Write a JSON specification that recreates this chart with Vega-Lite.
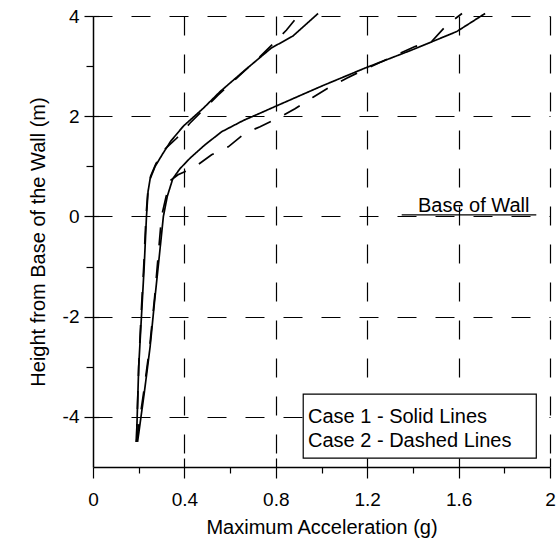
{
  "$schema": "https://vega.github.io/schema/vega-lite/v6.json",
  "width": 457,
  "height": 451,
  "autosize": {"type": "none"},
  "padding": {"left": 93, "top": 16, "right": 9, "bottom": 71},
  "background": "white",
  "config": {
    "font": "Liberation Sans",
    "view": {"stroke": null},
    "axis": {"domainColor": "black", "tickColor": "black", "labelColor": "black", "titleColor": "black", "gridColor": "black"}
  },
  "datasets": {
    "curves": [
      {"case": "Case 1", "curve": "c1-left", "x": 0.19, "y": -4.5},
      {"case": "Case 1", "curve": "c1-left", "x": 0.2, "y": -3},
      {"case": "Case 1", "curve": "c1-left", "x": 0.212, "y": -2},
      {"case": "Case 1", "curve": "c1-left", "x": 0.224, "y": -1},
      {"case": "Case 1", "curve": "c1-left", "x": 0.234, "y": 0},
      {"case": "Case 1", "curve": "c1-left", "x": 0.241, "y": 0.5},
      {"case": "Case 1", "curve": "c1-left", "x": 0.25, "y": 0.75},
      {"case": "Case 1", "curve": "c1-left", "x": 0.272, "y": 1.0},
      {"case": "Case 1", "curve": "c1-left", "x": 0.305, "y": 1.25},
      {"case": "Case 1", "curve": "c1-left", "x": 0.34, "y": 1.5},
      {"case": "Case 1", "curve": "c1-left", "x": 0.395, "y": 1.8},
      {"case": "Case 1", "curve": "c1-left", "x": 0.483, "y": 2.16},
      {"case": "Case 1", "curve": "c1-left", "x": 0.556, "y": 2.49},
      {"case": "Case 1", "curve": "c1-left", "x": 0.665, "y": 2.92},
      {"case": "Case 1", "curve": "c1-left", "x": 0.78, "y": 3.36},
      {"case": "Case 1", "curve": "c1-left", "x": 0.875, "y": 3.6},
      {"case": "Case 1", "curve": "c1-left", "x": 0.985, "y": 4.05},

      {"case": "Case 1", "curve": "c1-right", "x": 0.195, "y": -4.5},
      {"case": "Case 1", "curve": "c1-right", "x": 0.225, "y": -3.5},
      {"case": "Case 1", "curve": "c1-right", "x": 0.25, "y": -2.6},
      {"case": "Case 1", "curve": "c1-right", "x": 0.27, "y": -1.67},
      {"case": "Case 1", "curve": "c1-right", "x": 0.29, "y": -0.8},
      {"case": "Case 1", "curve": "c1-right", "x": 0.308, "y": 0},
      {"case": "Case 1", "curve": "c1-right", "x": 0.325, "y": 0.4},
      {"case": "Case 1", "curve": "c1-right", "x": 0.349, "y": 0.75},
      {"case": "Case 1", "curve": "c1-right", "x": 0.38, "y": 0.95},
      {"case": "Case 1", "curve": "c1-right", "x": 0.424, "y": 1.16},
      {"case": "Case 1", "curve": "c1-right", "x": 0.49, "y": 1.43},
      {"case": "Case 1", "curve": "c1-right", "x": 0.563, "y": 1.69},
      {"case": "Case 1", "curve": "c1-right", "x": 0.66, "y": 1.92},
      {"case": "Case 1", "curve": "c1-right", "x": 0.731, "y": 2.06},
      {"case": "Case 1", "curve": "c1-right", "x": 0.8, "y": 2.2},
      {"case": "Case 1", "curve": "c1-right", "x": 1.0, "y": 2.6},
      {"case": "Case 1", "curve": "c1-right", "x": 1.19, "y": 2.96},
      {"case": "Case 1", "curve": "c1-right", "x": 1.4, "y": 3.33},
      {"case": "Case 1", "curve": "c1-right", "x": 1.592, "y": 3.69},
      {"case": "Case 1", "curve": "c1-right", "x": 1.716, "y": 4.05},

      {"case": "Case 2", "curve": "c2-left", "x": 0.19, "y": -4.5},
      {"case": "Case 2", "curve": "c2-left", "x": 0.2, "y": -3},
      {"case": "Case 2", "curve": "c2-left", "x": 0.21, "y": -2},
      {"case": "Case 2", "curve": "c2-left", "x": 0.222, "y": -1},
      {"case": "Case 2", "curve": "c2-left", "x": 0.232, "y": 0},
      {"case": "Case 2", "curve": "c2-left", "x": 0.24, "y": 0.5},
      {"case": "Case 2", "curve": "c2-left", "x": 0.252, "y": 0.8},
      {"case": "Case 2", "curve": "c2-left", "x": 0.275, "y": 1.05},
      {"case": "Case 2", "curve": "c2-left", "x": 0.305, "y": 1.3},
      {"case": "Case 2", "curve": "c2-left", "x": 0.366, "y": 1.56},
      {"case": "Case 2", "curve": "c2-left", "x": 0.424, "y": 1.86},
      {"case": "Case 2", "curve": "c2-left", "x": 0.481, "y": 2.12},
      {"case": "Case 2", "curve": "c2-left", "x": 0.547, "y": 2.42},
      {"case": "Case 2", "curve": "c2-left", "x": 0.643, "y": 2.82},
      {"case": "Case 2", "curve": "c2-left", "x": 0.731, "y": 3.19},
      {"case": "Case 2", "curve": "c2-left", "x": 0.782, "y": 3.42},
      {"case": "Case 2", "curve": "c2-left", "x": 0.847, "y": 3.72},
      {"case": "Case 2", "curve": "c2-left", "x": 0.906, "y": 4.05},

      {"case": "Case 2", "curve": "c2-right", "x": 0.19, "y": -4.5},
      {"case": "Case 2", "curve": "c2-right", "x": 0.222, "y": -3.5},
      {"case": "Case 2", "curve": "c2-right", "x": 0.248, "y": -2.6},
      {"case": "Case 2", "curve": "c2-right", "x": 0.27, "y": -1.6},
      {"case": "Case 2", "curve": "c2-right", "x": 0.3, "y": 0},
      {"case": "Case 2", "curve": "c2-right", "x": 0.32, "y": 0.4},
      {"case": "Case 2", "curve": "c2-right", "x": 0.34, "y": 0.72},
      {"case": "Case 2", "curve": "c2-right", "x": 0.372, "y": 0.83},
      {"case": "Case 2", "curve": "c2-right", "x": 0.446, "y": 0.99},
      {"case": "Case 2", "curve": "c2-right", "x": 0.519, "y": 1.23},
      {"case": "Case 2", "curve": "c2-right", "x": 0.592, "y": 1.39},
      {"case": "Case 2", "curve": "c2-right", "x": 0.665, "y": 1.66},
      {"case": "Case 2", "curve": "c2-right", "x": 0.731, "y": 1.79},
      {"case": "Case 2", "curve": "c2-right", "x": 0.818, "y": 1.98},
      {"case": "Case 2", "curve": "c2-right", "x": 0.884, "y": 2.15},
      {"case": "Case 2", "curve": "c2-right", "x": 0.963, "y": 2.38},
      {"case": "Case 2", "curve": "c2-right", "x": 1.028, "y": 2.56},
      {"case": "Case 2", "curve": "c2-right", "x": 1.11, "y": 2.76},
      {"case": "Case 2", "curve": "c2-right", "x": 1.183, "y": 2.92},
      {"case": "Case 2", "curve": "c2-right", "x": 1.307, "y": 3.18},
      {"case": "Case 2", "curve": "c2-right", "x": 1.409, "y": 3.39},
      {"case": "Case 2", "curve": "c2-right", "x": 1.482, "y": 3.49},
      {"case": "Case 2", "curve": "c2-right", "x": 1.548, "y": 3.82},
      {"case": "Case 2", "curve": "c2-right", "x": 1.615, "y": 4.05}
    ],
    "box": [{"x": 0.92, "x2": 1.94, "y": -3.545, "y2": -4.822}],
    "notes": [
      {"x": 1.422, "y": 0.08, "label": "Base of Wall"},
      {"x": 0.941, "y": -4.118, "label": "Case 1 - Solid Lines"},
      {"x": 0.941, "y": -4.597, "label": "Case 2 - Dashed Lines"}
    ],
    "baseline": [{"x": 1.351, "x2": 1.94, "y": 0.03}]
  },
  "resolve": {"axis": {"x": "independent", "y": "independent"}},
  "layer": [
    {
      "data": {"name": "curves"},
      "mark": {"type": "line", "color": "black", "strokeWidth": 1.7},
      "encoding": {
        "x": {
          "field": "x", "type": "quantitative",
          "scale": {"domain": [0, 2], "nice": false, "zero": false},
          "axis": {
            "orient": "bottom",
            "values": [0, 0.2, 0.4, 0.6, 0.8, 1, 1.2, 1.4, 1.6, 1.8, 2],
            "labelExpr": "indexof([0, 0.4, 0.8, 1.2, 1.6, 2], datum.value) >= 0 ? '' + datum.value : ''",
            "labelFontSize": 19, "labelPadding": 12, "labelFlush": false, "labelOverlap": false,
            "tickSize": {"condition": {"test": "indexof([0, 0.4, 0.8, 1.2, 1.6, 2], datum.value) >= 0", "value": 11}, "value": 6},
            "tickWidth": 1.2, "domainWidth": 1.5,
            "grid": true, "gridDash": [19, 19], "gridWidth": 1.2,
            "gridOpacity": {"condition": {"test": "indexof([0.4, 0.8, 1.2, 1.6, 2], datum.value) >= 0", "value": 1}, "value": 0},
            "title": "Maximum Acceleration (g)",
            "titleFontSize": 20, "titleFontWeight": "normal",
            "titleX": 228.5, "titleY": 66, "titleBaseline": "alphabetic"
          }
        },
        "y": {
          "field": "y", "type": "quantitative",
          "scale": {"domain": [-5, 4], "nice": false, "zero": false},
          "axis": {
            "orient": "left",
            "values": [-4, -3, -2, -1, 0, 1, 2, 3, 4],
            "labelExpr": "datum.value % 2 == 0 ? '' + datum.value : ''",
            "labelFontSize": 19, "labelPadding": 5, "labelFlush": false, "labelOverlap": false,
            "tickSize": {"condition": {"test": "datum.value % 2 == 0", "value": 9}, "value": 7},
            "tickWidth": 1.2, "domainWidth": 1.5,
            "grid": true, "gridDash": [19, 19], "gridWidth": 1.2,
            "gridOpacity": {"condition": {"test": "datum.value % 2 == 0", "value": 1}, "value": 0},
            "title": "Height from Base of the Wall (m)",
            "titleFontSize": 20, "titleFontWeight": "normal",
            "titleX": -49, "titleY": 225.5, "titleBaseline": "alphabetic"
          }
        },
        "detail": {"field": "curve"},
        "order": {"field": "y", "type": "quantitative"},
        "strokeDash": {
          "field": "case", "type": "nominal",
          "scale": {"domain": ["Case 1", "Case 2"], "range": [[1, 0], [18, 15]]},
          "legend": null
        },
        "strokeWidth": {
          "field": "case", "type": "nominal",
          "scale": {"domain": ["Case 1", "Case 2"], "range": [1.7, 2.1]},
          "legend": null
        }
      }
    },
    {
      "data": {"name": "box"},
      "mark": {"type": "rect", "fill": "white", "stroke": "black", "strokeWidth": 1.2},
      "encoding": {
        "x": {
          "field": "x", "type": "quantitative",
          "scale": {"domain": [0, 2], "nice": false, "zero": false},
          "axis": {
            "orient": "top", "offset": -451, "values": [0.4, 0.8, 1.2, 1.6, 2],
            "labels": false, "domain": false, "grid": false, "title": null,
            "tickSize": 9, "tickWidth": 1.2
          }
        },
        "x2": {"field": "x2"},
        "y": {
          "field": "y", "type": "quantitative",
          "scale": {"domain": [-5, 4], "nice": false, "zero": false},
          "axis": {
            "orient": "right", "offset": -457, "values": [-4, -2, 0, 2, 4],
            "labels": false, "domain": false, "grid": false, "title": null,
            "tickSize": 6, "tickWidth": 1.2
          }
        },
        "y2": {"field": "y2"}
      }
    },
    {
      "data": {"name": "notes"},
      "mark": {"type": "text", "align": "left", "baseline": "alphabetic", "fontSize": 20, "color": "black"},
      "encoding": {
        "x": {"field": "x", "type": "quantitative", "scale": {"domain": [0, 2], "nice": false, "zero": false}, "axis": null},
        "y": {"field": "y", "type": "quantitative", "scale": {"domain": [-5, 4], "nice": false, "zero": false}, "axis": null},
        "text": {"field": "label"}
      }
    },
    {
      "data": {"name": "baseline"},
      "mark": {"type": "rule", "color": "black", "strokeWidth": 1.3},
      "encoding": {
        "x": {"field": "x", "type": "quantitative", "scale": {"domain": [0, 2], "nice": false, "zero": false}, "axis": null},
        "x2": {"field": "x2"},
        "y": {"field": "y", "type": "quantitative", "scale": {"domain": [-5, 4], "nice": false, "zero": false}, "axis": null}
      }
    }
  ]
}
